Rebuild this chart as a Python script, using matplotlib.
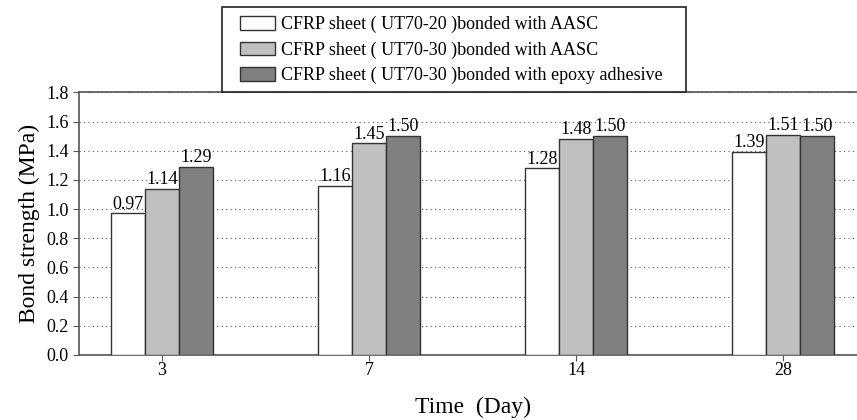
import numpy as np
import matplotlib.pyplot as plt
from matplotlib.patches import Rectangle

plt.rcParams['font.family'] = ['Liberation Serif', 'DejaVu Serif']

days = ['3', '7', '14', '28']
series_labels = [
    'CFRP sheet ( UT70-20 )bonded with AASC',
    'CFRP sheet ( UT70-30 )bonded with AASC',
    'CFRP sheet ( UT70-30 )bonded with epoxy adhesive',
]
ut70_20_aasc = [0.97, 1.16, 1.28, 1.39]
ut70_30_aasc = [1.14, 1.45, 1.48, 1.51]
ut70_30_epoxy = [1.29, 1.50, 1.50, 1.50]
bar_colors = ['#ffffff', '#c0c0c0', '#808080']

W, H = 857, 420
fig = plt.figure(figsize=(W / 100, H / 100), dpi=100)
ax = fig.add_axes([0.092, 0.155, 0.92, 0.625])

x = np.arange(len(days))
width = 0.165
for i, (vals, color, label) in enumerate(zip(
        [ut70_20_aasc, ut70_30_aasc, ut70_30_epoxy], bar_colors, series_labels)):
    pos = x + (i - 1) * width
    bars = ax.bar(pos, vals, width, color=color, edgecolor='#333333',
                  linewidth=1.0, label=label, zorder=3)
    for b, v in zip(bars, vals):
        ax.text(b.get_x() + b.get_width() / 2, v + 0.005, f'{v:.2f}',
                ha='center', va='bottom', fontsize=13, zorder=4)

ax.set_xlim(-0.401, 3.406)
ax.set_ylim(0, 1.8)
yt = np.arange(0, 1.81, 0.2)
ax.set_yticks(yt)
ax.set_yticklabels([f'{t:.1f}' for t in yt])
ax.set_xticks(x)
ax.set_xticklabels(days)
ax.tick_params(axis='both', labelsize=13, color='#555555', direction='out', length=4)
ax.tick_params(axis='x', pad=1)
ax.yaxis.grid(True, linestyle=(0, (1, 3)), color='#555555', linewidth=0.8, zorder=0)

for side in ['left', 'bottom', 'top']:
    ax.spines[side].set_color('#555555')
    ax.spines[side].set_linewidth(1.2)
ax.spines['right'].set_visible(False)

ax.set_ylabel('Bond strength (MPa)', fontsize=17)
ax.set_xlabel('Time  (Day)', fontsize=17, labelpad=13)

# legend box sits on top of the plot frame
fig.patches.append(Rectangle((222 / W, 1 - 92 / H), 464 / W, 85 / H,
                             transform=fig.transFigure, facecolor='white',
                             edgecolor='#222222', linewidth=1.2))
fig.legend(loc='upper left', bbox_to_anchor=(240 / W, 1 - 16 / H), fontsize=13,
           frameon=False, borderpad=0, labelspacing=0.45, handlelength=1.95,
           handleheight=0.8, handletextpad=0.3, borderaxespad=0)

fig.savefig('out.png', dpi=100)
